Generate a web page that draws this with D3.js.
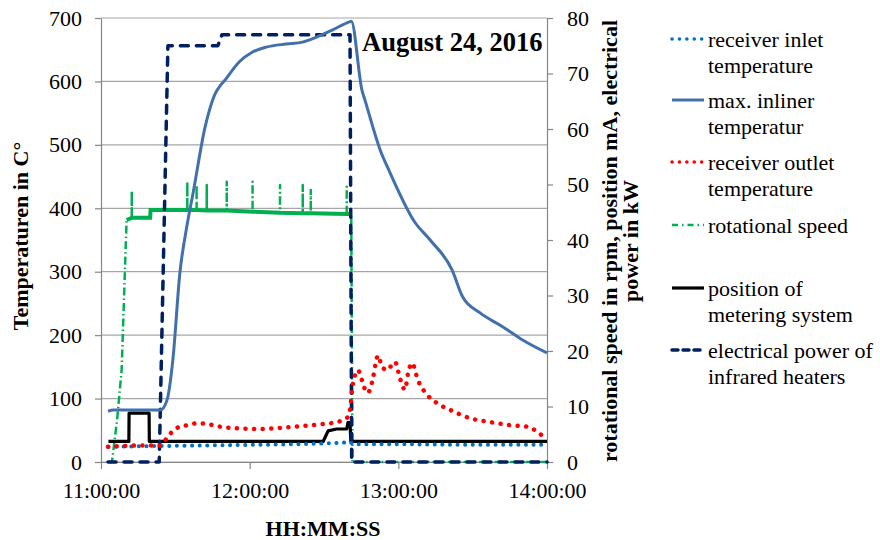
<!DOCTYPE html>
<html>
<head>
<meta charset="utf-8">
<script src="https://cdn.jsdelivr.net/npm/d3@7"></script>
<style>
  body { margin: 0; background: #fff; }
  svg text { font-family: "Liberation Serif", "Times New Roman", serif; }
</style>
</head>
<body>
<div id="chart"></div>
<script>
// axis ticks
var timeTicks = ["11:00:00", "12:00:00", "13:00:00", "14:00:00"];
var tempTicks = [0, 100, 200, 300, 400, 500, 600, 700];
var rightTicks = [0, 10, 20, 30, 40, 50, 60, 70, 80];

// primary axis series (°C)
var inletTemp = [
  ["11:03:00", 24], ["11:20:00", 25], ["11:40:00", 26], ["12:00:00", 27], ["12:20:00", 28],
  ["12:35:00", 30], ["12:40:30", 31], ["12:42:00", 28], ["13:00:00", 28], ["13:30:00", 27],
  ["14:00:00", 27]
];
var inlinerTemp = [
  ["11:02:50", 80], ["11:05:00", 82], ["11:24:00", 82], ["11:26:40", 98], ["11:29:00", 161],
  ["11:31:50", 298], ["11:34:40", 372], ["11:37:10", 424], ["11:42:00", 528], ["11:45:10", 572],
  ["11:50:50", 606], ["11:55:50", 631], ["12:01:00", 646], ["12:06:40", 654], ["12:14:45", 659],
  ["12:21:20", 662], ["12:27:00", 670], ["12:33:20", 681], ["12:40:15", 694], ["12:41:00", 695],
  ["12:45:20", 586], ["12:46:30", 571], ["12:52:40", 492], ["12:56:40", 456], ["13:06:40", 378],
  ["13:12:50", 350], ["13:21:40", 303], ["13:26:00", 260], ["13:33:00", 235], ["13:42:15", 213],
  ["13:50:20", 192], ["14:00:00", 172]
];
var outletTemp = [
  ["11:02:50", 24], ["11:16:30", 26], ["11:23:50", 26], ["11:26:40", 38], ["11:29:50", 52],
  ["11:34:40", 58], ["11:38:45", 61], ["11:42:45", 60], ["11:49:15", 55], ["12:03:00", 52],
  ["12:16:15", 55], ["12:29:35", 60], ["12:35:15", 63], ["12:39:40", 71], ["12:40:30", 82],
  ["12:41:20", 114], ["12:42:30", 137], ["12:43:40", 145], ["12:45:20", 129], ["12:47:20", 109],
  ["12:48:35", 114], ["12:49:50", 134], ["12:51:50", 168], ["12:53:25", 150], ["12:55:25", 145],
  ["12:58:40", 158], ["13:00:40", 132], ["13:02:40", 114], ["13:03:55", 140], ["13:05:30", 156],
  ["13:07:55", 129], ["13:11:35", 106], ["13:15:35", 93], ["13:22:05", 80], ["13:28:55", 69],
  ["13:37:00", 63], ["13:45:05", 58], ["13:53:10", 55], ["13:56:20", 46], ["14:00:00", 38]
];

// secondary axis series (rpm, mA, kW)
var rotSpeed = [
  ["11:03:00", 0], ["11:04:25", 0], ["11:06:30", 7.6], ["11:08:20", 16.6], ["11:09:15", 29],
  ["11:10:20", 43.6], ["11:12:25", 44], ["11:12:25", 48.8], ["11:12:25", 44], ["11:19:50", 44],
  ["11:20:00", 45.4], ["11:34:50", 45.4], ["11:34:50", 50.5], ["11:34:50", 45.4],
  ["11:38:35", 45.4], ["11:38:35", 49.9], ["11:38:35", 45.4], ["11:42:40", 45.3],
  ["11:42:40", 49.9], ["11:42:40", 45.3], ["11:50:45", 45.3], ["11:50:45", 50.5],
  ["11:50:45", 45.3], ["12:01:10", 45.1], ["12:01:10", 50.5], ["12:01:10", 45.1],
  ["12:12:15", 44.9], ["12:12:15", 49.9], ["12:12:15", 44.9], ["12:21:25", 44.8],
  ["12:21:25", 49.9], ["12:21:25", 44.8], ["12:24:40", 44.8], ["12:24:40", 49], ["12:24:40", 44.8],
  ["12:39:10", 44.7], ["12:39:10", 49.6], ["12:39:10", 44.7], ["12:41:00", 44.7],
  ["12:41:30", 0], ["14:00:00", 0]
];
var meterPos = [
  ["11:03:00", 3.7], ["11:11:15", 3.7], ["11:11:20", 8.8], ["11:19:25", 8.8], ["11:19:30", 3.7],
  ["12:29:40", 3.7], ["12:31:40", 5.6], ["12:35:05", 5.95], ["12:39:10", 5.95], ["12:39:40", 7.1],
  ["12:40:30", 7.1], ["12:40:50", 3.7], ["14:00:00", 3.7]
];
var heaterPower = [
  ["11:02:50", 0], ["11:23:30", 0], ["11:27:00", 75], ["11:47:10", 75], ["11:48:50", 77],
  ["12:40:30", 77], ["12:41:10", 0], ["14:00:00", 0]
];

var W = 880, H = 540;
var parseT = d3.timeParse("%H:%M:%S");

var x = d3.scaleTime()
  .domain([parseT(timeTicks[0]), parseT(timeTicks[timeTicks.length - 1])])
  .range([101, 547]);
var yL = d3.scaleLinear().domain([0, 700]).range([462, 18]);
var yR = d3.scaleLinear().domain([0, 80]).range([462, 18]);

var svg = d3.select("#chart").append("svg")
  .attr("width", W)
  .attr("height", H);

// gridlines
svg.append("g").selectAll("line")
  .data(tempTicks)
  .enter().append("line")
  .attr("x1", 101).attr("x2", 547)
  .attr("y1", function(d) { return yL(d); })
  .attr("y2", function(d) { return yL(d); })
  .attr("stroke", "#a6a6a6")
  .attr("stroke-width", 1.2);

// axes
var axL = svg.append("g").attr("transform", "translate(101,0)")
  .call(d3.axisLeft(yL).tickValues(tempTicks).tickSize(6).tickSizeOuter(0).tickPadding(13));
var axR = svg.append("g").attr("transform", "translate(547,0)")
  .call(d3.axisRight(yR).tickValues(rightTicks).tickSize(6).tickSizeOuter(0).tickPadding(14));
var axB = svg.append("g").attr("transform", "translate(0,462)")
  .call(d3.axisBottom(x).tickValues(timeTicks.map(parseT))
    .tickFormat(d3.timeFormat("%H:%M:%S")).tickSize(7).tickSizeOuter(0).tickPadding(13));

[axL, axR, axB].forEach(function(a) {
  a.select(".domain").attr("stroke", "#868686").attr("stroke-width", 1.2);
  a.selectAll(".tick line").attr("stroke", "#868686").attr("stroke-width", 1.2);
  a.selectAll(".tick text")
    .attr("fill", "#000")
    .style("font-size", "22px")
    .style("font-family", "'Liberation Serif', 'Times New Roman', serif");
});

function toPts(arr) {
  return arr.map(function(d) { return {t: parseT(d[0]), v: d[1]}; });
}

function lineFor(yScale, curve) {
  return d3.line()
    .curve(curve || d3.curveLinear)
    .x(function(d) { return x(d.t); })
    .y(function(d) { return yScale(d.v); });
}

var styles = {
  inlet:   {color: "#0070c0", width: 4, dash: "0.1,7.5", cap: "round"},
  inliner: {color: "#4170aa", width: 3, dash: null, cap: "butt"},
  outlet:  {color: "#ff0000", width: 4.5, dash: "0.1,8.5", cap: "round"},
  speed:   {color: "#00b050", width: 2.5, dash: "8,3,1.5,3", cap: "butt"},
  pos:     {color: "#000000", width: 3.2, dash: null, cap: "butt"},
  power:   {color: "#002060", width: 3.5, dash: "8,8", cap: "round"}
};

function drawSeries(arr, yScale, st, curve) {
  svg.append("path")
    .datum(toPts(arr))
    .attr("d", lineFor(yScale, curve))
    .attr("fill", "none")
    .attr("stroke", st.color)
    .attr("stroke-width", st.width)
    .attr("stroke-linecap", st.cap)
    .attr("stroke-linejoin", "round")
    .attr("stroke-dasharray", st.dash);
}

// secondary series first, primary on top
drawSeries(rotSpeed, yR, styles.speed);
// the noisy plateau reads as a solid band
svg.append("path")
  .datum(toPts(rotSpeed))
  .attr("d", lineFor(yR).defined(function(d) { return d.v > 40 && d.v < 46; }))
  .attr("fill", "none")
  .attr("stroke", styles.speed.color)
  .attr("stroke-width", 4);
drawSeries(meterPos, yR, styles.pos);
drawSeries(heaterPower, yR, styles.power);
drawSeries(inletTemp, yL, styles.inlet);
drawSeries(inlinerTemp, yL, styles.inliner, d3.curveMonotoneX);
drawSeries(outletTemp, yL, styles.outlet, d3.curveMonotoneX);

// date label
svg.append("text")
  .attr("x", 362).attr("y", 51)
  .style("font-size", "26.5px").style("font-weight", "bold")
  .text("August 24, 2016");

// axis titles
svg.append("text")
  .attr("transform", "translate(28,236) rotate(-90)")
  .attr("text-anchor", "middle")
  .style("font-size", "22px").style("font-weight", "bold")
  .text("Temperaturen in C°");

var rt = svg.append("text")
  .attr("transform", "translate(617,241) rotate(-90)")
  .attr("text-anchor", "middle")
  .style("font-size", "22px").style("font-weight", "bold");
rt.append("tspan").attr("x", 0).attr("dy", 0).text("rotational speed in rpm, position mA, electrical");
rt.append("tspan").attr("x", 0).attr("dy", 21).text("power in kW");

svg.append("text")
  .attr("x", 323).attr("y", 536)
  .attr("text-anchor", "middle")
  .style("font-size", "22px").style("font-weight", "bold")
  .text("HH:MM:SS");

// legend
var legend = [
  {lines: ["receiver inlet", "temperature"], st: styles.inlet, y: 47},
  {lines: ["max. inliner", "temperatur"], st: styles.inliner, y: 108},
  {lines: ["receiver outlet", "temperature"], st: styles.outlet, y: 170},
  {lines: ["rotational speed"], st: styles.speed, y: 233},
  {lines: ["position of", "metering system"], st: styles.pos, y: 296},
  {lines: ["electrical power of", "infrared heaters"], st: styles.power, y: 358}
];

var lg = svg.append("g").selectAll("g")
  .data(legend)
  .enter().append("g");

lg.append("line")
  .attr("x1", 672).attr("x2", 704)
  .attr("y1", function(d) { return d.y - 8; })
  .attr("y2", function(d) { return d.y - 8; })
  .attr("stroke", function(d) { return d.st.color; })
  .attr("stroke-width", function(d) { return Math.min(d.st.width, 3.5); })
  .attr("stroke-linecap", function(d) { return d.st.cap; })
  .attr("stroke-dasharray", function(d) {
    if (d.st === styles.power) return "6,5";
    if (d.st === styles.speed) return "6,4,1.5,4";
    if (d.st.dash) return "0.1,7.3";
    return null;
  });

lg.append("text")
  .attr("x", 708)
  .attr("y", function(d) { return d.y; })
  .style("font-size", "22px")
  .selectAll("tspan")
  .data(function(d) { return d.lines; })
  .enter().append("tspan")
  .attr("x", 708)
  .attr("dy", function(d, i) { return i === 0 ? 0 : 26; })
  .text(function(d) { return d; });
</script>
</body>
</html>
